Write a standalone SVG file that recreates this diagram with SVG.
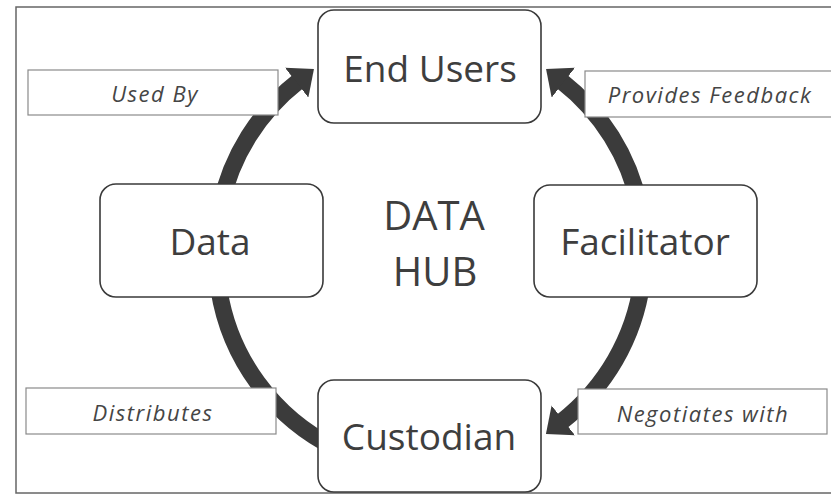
<svg xmlns="http://www.w3.org/2000/svg" width="831" height="495" viewBox="0 0 831 495">
<style>
.node rect{fill:#fff;stroke:#3a3a3a;stroke-width:1.6}
.node text{font-family:"Open Sans","Liberation Sans",sans-serif;font-size:37px;fill:#3e3e3e;text-anchor:middle}
.lbl rect{fill:#fff;stroke:#8a8a8a;stroke-width:1.2}
.lbl text{font-family:"Open Sans","Liberation Sans",sans-serif;font-style:italic;font-size:22px;letter-spacing:1.5px;fill:#454545;text-anchor:middle}
.arc{fill:none;stroke:#3b3b3b;stroke-width:17}
.hub{font-family:"Open Sans","Liberation Sans",sans-serif;font-size:40px;fill:#3e3e3e;text-anchor:middle}
</style>
<defs>
<marker id="head" markerUnits="userSpaceOnUse" viewBox="0 0 22 38" refX="2" refY="19" markerWidth="22" markerHeight="38" orient="auto">
<path d="M0,0 L22,19 L0,38 Z" fill="#3b3b3b"/>
</marker>
</defs>
<rect x="0" y="0" width="831" height="495" fill="#fff"/>
<rect x="16" y="7" width="830" height="486" fill="#fff" stroke="#666" stroke-width="1.5"/>
<g id="connectors">
<path class="arc" d="M220.7,205.5 A214,214 0 0 1 298.2,81.4" marker-end="url(#head)"/>
<path class="arc" d="M639.3,205.5 A214,214 0 0 0 561.8,81.4" marker-end="url(#head)"/>
<path class="arc" d="M641.9,282.8 A214,214 0 0 1 561.7,421.6" marker-end="url(#head)"/>
<path class="arc" d="M335,448 A214,214 0 0 1 219,290"/>
</g>
<g id="label-usedby" class="lbl"><rect x="28" y="70" width="250" height="45"/><text x="155" y="102">Used By</text></g>
<g id="label-feedback" class="lbl"><rect x="585" y="71" width="250" height="46"/><text x="710" y="103">Provides Feedback</text></g>
<g id="label-distributes" class="lbl"><rect x="26" y="388" width="250" height="46"/><text x="153" y="421">Distributes</text></g>
<g id="label-negotiates" class="lbl"><rect x="578" y="389" width="249" height="45"/><text x="703" y="422">Negotiates with</text></g>
<g id="end-users" class="node"><rect x="318" y="10" width="223" height="113" rx="16"/><text x="430" y="82">End Users</text></g>
<g id="data" class="node"><rect x="100" y="184" width="223" height="113" rx="16"/><text x="210" y="255">Data</text></g>
<g id="facilitator" class="node"><rect x="534" y="185" width="223" height="112" rx="16"/><text x="645" y="255">Facilitator</text></g>
<g id="custodian" class="node"><rect x="318" y="380" width="223" height="112" rx="16"/><text x="429" y="450">Custodian</text></g>
<g id="hub"><text class="hub" x="434" y="230">DATA</text><text class="hub" x="435" y="286">HUB</text></g>
</svg>
